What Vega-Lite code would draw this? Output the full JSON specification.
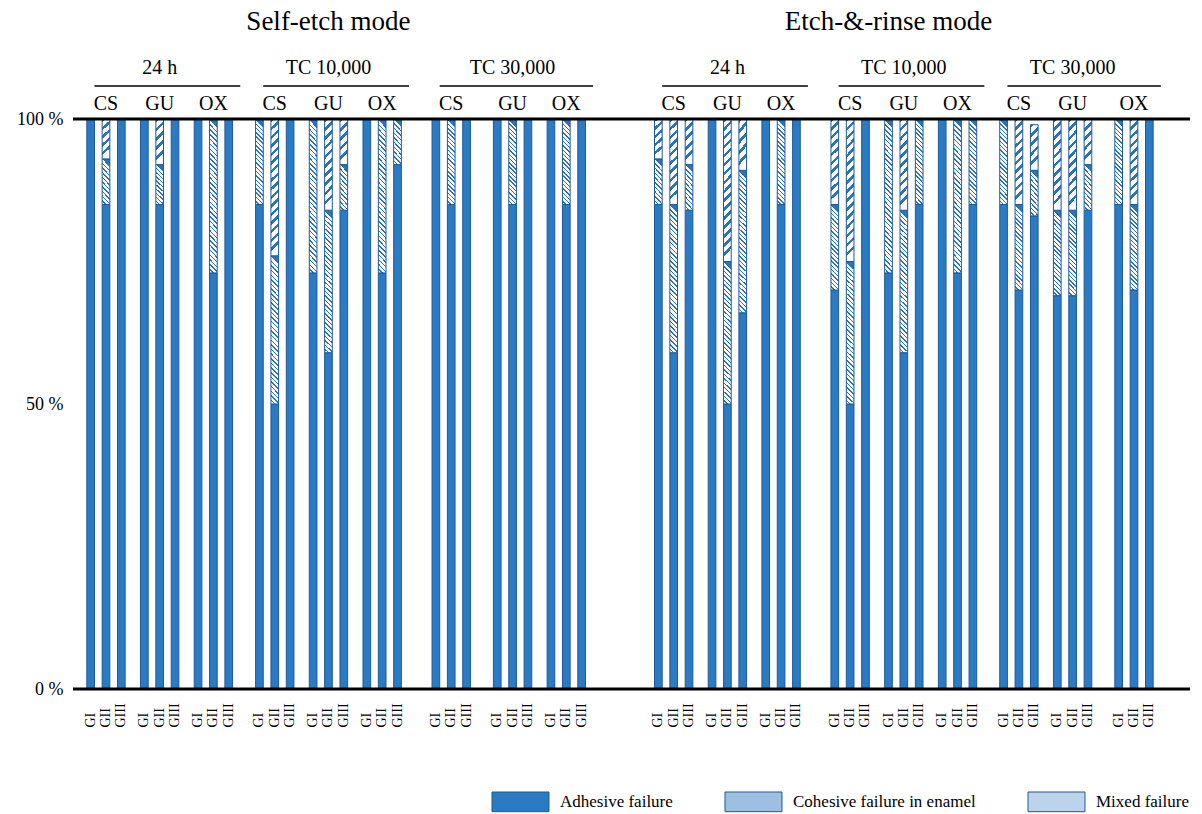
{
  "$schema": "https://vega.github.io/schema/vega-lite/v6.json",
  "width": 1117,
  "height": 684,
  "autosize": {"type": "none"},
  "padding": {"left": 73, "top": 5, "right": 12, "bottom": 125},
  "config": {"view": {"stroke": null}, "font": "Liberation Serif"},
  "data": {"values": [
    {"mode":"Self-etch mode","time":"24 h","material":"CS","group":"GI","adhesive":100,"mixed":0,"cohesive":0},
    {"mode":"Self-etch mode","time":"24 h","material":"CS","group":"GII","adhesive":85,"mixed":8,"cohesive":7},
    {"mode":"Self-etch mode","time":"24 h","material":"CS","group":"GIII","adhesive":100,"mixed":0,"cohesive":0},
    {"mode":"Self-etch mode","time":"24 h","material":"GU","group":"GI","adhesive":100,"mixed":0,"cohesive":0},
    {"mode":"Self-etch mode","time":"24 h","material":"GU","group":"GII","adhesive":85,"mixed":7,"cohesive":8},
    {"mode":"Self-etch mode","time":"24 h","material":"GU","group":"GIII","adhesive":100,"mixed":0,"cohesive":0},
    {"mode":"Self-etch mode","time":"24 h","material":"OX","group":"GI","adhesive":100,"mixed":0,"cohesive":0},
    {"mode":"Self-etch mode","time":"24 h","material":"OX","group":"GII","adhesive":73,"mixed":27,"cohesive":0},
    {"mode":"Self-etch mode","time":"24 h","material":"OX","group":"GIII","adhesive":100,"mixed":0,"cohesive":0},
    {"mode":"Self-etch mode","time":"TC 10,000","material":"CS","group":"GI","adhesive":85,"mixed":15,"cohesive":0},
    {"mode":"Self-etch mode","time":"TC 10,000","material":"CS","group":"GII","adhesive":50,"mixed":26,"cohesive":24},
    {"mode":"Self-etch mode","time":"TC 10,000","material":"CS","group":"GIII","adhesive":100,"mixed":0,"cohesive":0},
    {"mode":"Self-etch mode","time":"TC 10,000","material":"GU","group":"GI","adhesive":73,"mixed":27,"cohesive":0},
    {"mode":"Self-etch mode","time":"TC 10,000","material":"GU","group":"GII","adhesive":59,"mixed":25,"cohesive":16},
    {"mode":"Self-etch mode","time":"TC 10,000","material":"GU","group":"GIII","adhesive":84,"mixed":8,"cohesive":8},
    {"mode":"Self-etch mode","time":"TC 10,000","material":"OX","group":"GI","adhesive":100,"mixed":0,"cohesive":0},
    {"mode":"Self-etch mode","time":"TC 10,000","material":"OX","group":"GII","adhesive":73,"mixed":27,"cohesive":0},
    {"mode":"Self-etch mode","time":"TC 10,000","material":"OX","group":"GIII","adhesive":92,"mixed":8,"cohesive":0},
    {"mode":"Self-etch mode","time":"TC 30,000","material":"CS","group":"GI","adhesive":100,"mixed":0,"cohesive":0},
    {"mode":"Self-etch mode","time":"TC 30,000","material":"CS","group":"GII","adhesive":85,"mixed":15,"cohesive":0},
    {"mode":"Self-etch mode","time":"TC 30,000","material":"CS","group":"GIII","adhesive":100,"mixed":0,"cohesive":0},
    {"mode":"Self-etch mode","time":"TC 30,000","material":"GU","group":"GI","adhesive":100,"mixed":0,"cohesive":0},
    {"mode":"Self-etch mode","time":"TC 30,000","material":"GU","group":"GII","adhesive":85,"mixed":15,"cohesive":0},
    {"mode":"Self-etch mode","time":"TC 30,000","material":"GU","group":"GIII","adhesive":100,"mixed":0,"cohesive":0},
    {"mode":"Self-etch mode","time":"TC 30,000","material":"OX","group":"GI","adhesive":100,"mixed":0,"cohesive":0},
    {"mode":"Self-etch mode","time":"TC 30,000","material":"OX","group":"GII","adhesive":85,"mixed":15,"cohesive":0},
    {"mode":"Self-etch mode","time":"TC 30,000","material":"OX","group":"GIII","adhesive":100,"mixed":0,"cohesive":0},
    {"mode":"Etch-&-rinse mode","time":"24 h","material":"CS","group":"GI","adhesive":85,"mixed":8,"cohesive":7},
    {"mode":"Etch-&-rinse mode","time":"24 h","material":"CS","group":"GII","adhesive":59,"mixed":26,"cohesive":15},
    {"mode":"Etch-&-rinse mode","time":"24 h","material":"CS","group":"GIII","adhesive":84,"mixed":8,"cohesive":8},
    {"mode":"Etch-&-rinse mode","time":"24 h","material":"GU","group":"GI","adhesive":100,"mixed":0,"cohesive":0},
    {"mode":"Etch-&-rinse mode","time":"24 h","material":"GU","group":"GII","adhesive":50,"mixed":25,"cohesive":25},
    {"mode":"Etch-&-rinse mode","time":"24 h","material":"GU","group":"GIII","adhesive":66,"mixed":25,"cohesive":9},
    {"mode":"Etch-&-rinse mode","time":"24 h","material":"OX","group":"GI","adhesive":100,"mixed":0,"cohesive":0},
    {"mode":"Etch-&-rinse mode","time":"24 h","material":"OX","group":"GII","adhesive":85,"mixed":15,"cohesive":0},
    {"mode":"Etch-&-rinse mode","time":"24 h","material":"OX","group":"GIII","adhesive":100,"mixed":0,"cohesive":0},
    {"mode":"Etch-&-rinse mode","time":"TC 10,000","material":"CS","group":"GI","adhesive":70,"mixed":15,"cohesive":15},
    {"mode":"Etch-&-rinse mode","time":"TC 10,000","material":"CS","group":"GII","adhesive":50,"mixed":25,"cohesive":25},
    {"mode":"Etch-&-rinse mode","time":"TC 10,000","material":"CS","group":"GIII","adhesive":100,"mixed":0,"cohesive":0},
    {"mode":"Etch-&-rinse mode","time":"TC 10,000","material":"GU","group":"GI","adhesive":73,"mixed":27,"cohesive":0},
    {"mode":"Etch-&-rinse mode","time":"TC 10,000","material":"GU","group":"GII","adhesive":59,"mixed":25,"cohesive":16},
    {"mode":"Etch-&-rinse mode","time":"TC 10,000","material":"GU","group":"GIII","adhesive":85,"mixed":15,"cohesive":0},
    {"mode":"Etch-&-rinse mode","time":"TC 10,000","material":"OX","group":"GI","adhesive":100,"mixed":0,"cohesive":0},
    {"mode":"Etch-&-rinse mode","time":"TC 10,000","material":"OX","group":"GII","adhesive":73,"mixed":27,"cohesive":0},
    {"mode":"Etch-&-rinse mode","time":"TC 10,000","material":"OX","group":"GIII","adhesive":85,"mixed":15,"cohesive":0},
    {"mode":"Etch-&-rinse mode","time":"TC 30,000","material":"CS","group":"GI","adhesive":85,"mixed":15,"cohesive":0},
    {"mode":"Etch-&-rinse mode","time":"TC 30,000","material":"CS","group":"GII","adhesive":70,"mixed":15,"cohesive":15},
    {"mode":"Etch-&-rinse mode","time":"TC 30,000","material":"CS","group":"GIII","adhesive":83,"mixed":8,"cohesive":8},
    {"mode":"Etch-&-rinse mode","time":"TC 30,000","material":"GU","group":"GI","adhesive":69,"mixed":15,"cohesive":16},
    {"mode":"Etch-&-rinse mode","time":"TC 30,000","material":"GU","group":"GII","adhesive":69,"mixed":15,"cohesive":16},
    {"mode":"Etch-&-rinse mode","time":"TC 30,000","material":"GU","group":"GIII","adhesive":84,"mixed":8,"cohesive":8},
    {"mode":"Etch-&-rinse mode","time":"TC 30,000","material":"OX","group":"GI","adhesive":85,"mixed":15,"cohesive":0},
    {"mode":"Etch-&-rinse mode","time":"TC 30,000","material":"OX","group":"GII","adhesive":70,"mixed":15,"cohesive":15},
    {"mode":"Etch-&-rinse mode","time":"TC 30,000","material":"OX","group":"GIII","adhesive":100,"mixed":0,"cohesive":0}
  ]},
  "transform": [
    {"calculate": "substring(datum.mode,0,1) + (indexof(['24 h','TC 10,000','TC 30,000'], datum.time) + 1) + '-' + datum.material + '-' + datum.group", "as": "key"}
  ],
  "layer": [
    {
      "transform": [
        {"fold": ["adhesive", "mixed", "cohesive"], "as": ["type", "pct"]},
        {"filter": "datum.pct > 0"},
        {"calculate": "datum.type == 'adhesive' ? 'Adhesive failure' : datum.type == 'mixed' ? 'Mixed failure' : 'Cohesive failure in enamel'", "as": "failure"},
        {"calculate": "datum.type == 'adhesive' ? 'A' : (datum.type == 'cohesive' ? 'C' : 'M') + (datum.pct < 12 ? '1' : datum.pct < 20 ? '2' : '3')", "as": "fk"},
        {"calculate": "datum.type == 'adhesive' ? 0 : datum.type == 'mixed' ? 1 : 2", "as": "ord"}
      ],
      "mark": {"type": "bar", "stroke": "#1E5A97", "strokeWidth": 1},
      "encoding": {
        "x": {
          "field": "key", "type": "nominal", "sort": null,
          "scale": {
            "paddingInner": 0, "paddingOuter": 0.8,
            "domain": ["_a",
              "S1-CS-GI","_b","S1-CS-GII","_1","S1-CS-GIII","_3","_5",
              "S1-GU-GI","_7","S1-GU-GII","_9","S1-GU-GIII","_11","_12",
              "S1-OX-GI","_14","S1-OX-GII","_16","S1-OX-GIII","_18","_19","_20",
              "S2-CS-GI","_22","S2-CS-GII","_24","S2-CS-GIII","_26","_27",
              "S2-GU-GI","_29","S2-GU-GII","_31","S2-GU-GIII","_33","_34",
              "S2-OX-GI","_36","S2-OX-GII","_38","S2-OX-GIII","_40","_41","_42","_43",
              "S3-CS-GI","_45","S3-CS-GII","_47","S3-CS-GIII","_49","_50","_51",
              "S3-GU-GI","_53","S3-GU-GII","_55","S3-GU-GIII","_57","_58",
              "S3-OX-GI","_60","S3-OX-GII","_62","S3-OX-GIII",
              "_64","_65","_66","_67","_68","_69","_70","_71","_72",
              "E1-CS-GI","_74","E1-CS-GII","_76","E1-CS-GIII","_78","_79",
              "E1-GU-GI","_81","E1-GU-GII","_83","E1-GU-GIII","_85","_86",
              "E1-OX-GI","_88","E1-OX-GII","_90","E1-OX-GIII","_92","_93","_94","_95",
              "E2-CS-GI","_97","E2-CS-GII","_99","E2-CS-GIII","_101","_102",
              "E2-GU-GI","_104","E2-GU-GII","_106","E2-GU-GIII","_108","_109",
              "E2-OX-GI","_111","E2-OX-GII","_113","E2-OX-GIII","_115","_116","_117",
              "E3-CS-GI","_119","E3-CS-GII","_121","E3-CS-GIII","_123","_124",
              "E3-GU-GI","_126","E3-GU-GII","_128","E3-GU-GIII","_130","_131","_132",
              "E3-OX-GI","_135","E3-OX-GII","_137","E3-OX-GIII",
              "_t0","_t1","_t2","_t3"]
          },
          "axis": {
            "orient": "bottom", "title": null, "domain": false, "ticks": false,
            "labelAngle": -90, "labelAlign": "left", "labelBaseline": "middle",
            "labelPadding": 38, "labelFontSize": 14, "labelFont": "Liberation Serif",
            "labelColor": "black", "labelOverlap": false, "labelBound": false,
            "labelExpr": "indexof(datum.value, '-') > 0 ? split(datum.value, '-')[2] : ''"
          }
        },
        "y": {
          "field": "pct", "type": "quantitative", "stack": "zero",
          "scale": {"domain": [0, 120], "nice": false},
          "axis": {
            "values": [0, 50, 100], "labelExpr": "datum.value + ' %'", "title": null,
            "domain": false, "ticks": false, "grid": false,
            "labelFontSize": 18, "labelFont": "Liberation Serif", "labelColor": "black", "labelPadding": 10
          }
        },
        "color": {
          "field": "failure", "type": "nominal",
          "scale": {
            "domain": ["Adhesive failure", "Cohesive failure in enamel", "Mixed failure"],
            "range": ["#2A7BC3", "#9DBFE2", "#BCD3EC"]
          },
          "condition": [
            {"test": "datum.fk == 'C1'", "value": {"gradient": "linear", "x1": 0, "y1": 0, "x2": 0.17, "y2": 1, "stops": [
                {"offset":0,"color":"#2B73BB"},{"offset":0.08,"color":"#2B73BB"},{"offset":0.08,"color":"#ffffff"},{"offset":0.2,"color":"#ffffff"},
                {"offset":0.2,"color":"#2B73BB"},{"offset":0.28,"color":"#2B73BB"},{"offset":0.28,"color":"#ffffff"},{"offset":0.4,"color":"#ffffff"},
                {"offset":0.4,"color":"#2B73BB"},{"offset":0.48,"color":"#2B73BB"},{"offset":0.48,"color":"#ffffff"},{"offset":0.6,"color":"#ffffff"},
                {"offset":0.6,"color":"#2B73BB"},{"offset":0.68,"color":"#2B73BB"},{"offset":0.68,"color":"#ffffff"},{"offset":0.8,"color":"#ffffff"},
                {"offset":0.8,"color":"#2B73BB"},{"offset":0.88,"color":"#2B73BB"},{"offset":0.88,"color":"#ffffff"},{"offset":1,"color":"#ffffff"}
            ]}},
            {"test": "datum.fk == 'C2'", "value": {"gradient": "linear", "x1": 0, "y1": 0, "x2": 0.087, "y2": 1, "stops": [
                {"offset":0,"color":"#2B73BB"},{"offset":0.04,"color":"#2B73BB"},{"offset":0.04,"color":"#ffffff"},{"offset":0.1,"color":"#ffffff"},
                {"offset":0.1,"color":"#2B73BB"},{"offset":0.14,"color":"#2B73BB"},{"offset":0.14,"color":"#ffffff"},{"offset":0.2,"color":"#ffffff"},
                {"offset":0.2,"color":"#2B73BB"},{"offset":0.24,"color":"#2B73BB"},{"offset":0.24,"color":"#ffffff"},{"offset":0.3,"color":"#ffffff"},
                {"offset":0.3,"color":"#2B73BB"},{"offset":0.34,"color":"#2B73BB"},{"offset":0.34,"color":"#ffffff"},{"offset":0.4,"color":"#ffffff"},
                {"offset":0.4,"color":"#2B73BB"},{"offset":0.44,"color":"#2B73BB"},{"offset":0.44,"color":"#ffffff"},{"offset":0.5,"color":"#ffffff"},
                {"offset":0.5,"color":"#2B73BB"},{"offset":0.54,"color":"#2B73BB"},{"offset":0.54,"color":"#ffffff"},{"offset":0.6,"color":"#ffffff"},
                {"offset":0.6,"color":"#2B73BB"},{"offset":0.64,"color":"#2B73BB"},{"offset":0.64,"color":"#ffffff"},{"offset":0.7,"color":"#ffffff"},
                {"offset":0.7,"color":"#2B73BB"},{"offset":0.74,"color":"#2B73BB"},{"offset":0.74,"color":"#ffffff"},{"offset":0.8,"color":"#ffffff"},
                {"offset":0.8,"color":"#2B73BB"},{"offset":0.84,"color":"#2B73BB"},{"offset":0.84,"color":"#ffffff"},{"offset":0.9,"color":"#ffffff"},
                {"offset":0.9,"color":"#2B73BB"},{"offset":0.94,"color":"#2B73BB"},{"offset":0.94,"color":"#ffffff"},{"offset":1,"color":"#ffffff"}
            ]}},
            {"test": "datum.fk == 'C3'", "value": {"gradient": "linear", "x1": 0, "y1": 0, "x2": 0.055, "y2": 1, "stops": [
                {"offset":0,"color":"#2B73BB"},{"offset":0.025,"color":"#2B73BB"},{"offset":0.025,"color":"#ffffff"},{"offset":0.0625,"color":"#ffffff"},
                {"offset":0.0625,"color":"#2B73BB"},{"offset":0.0875,"color":"#2B73BB"},{"offset":0.0875,"color":"#ffffff"},{"offset":0.125,"color":"#ffffff"},
                {"offset":0.125,"color":"#2B73BB"},{"offset":0.15,"color":"#2B73BB"},{"offset":0.15,"color":"#ffffff"},{"offset":0.1875,"color":"#ffffff"},
                {"offset":0.1875,"color":"#2B73BB"},{"offset":0.2125,"color":"#2B73BB"},{"offset":0.2125,"color":"#ffffff"},{"offset":0.25,"color":"#ffffff"},
                {"offset":0.25,"color":"#2B73BB"},{"offset":0.275,"color":"#2B73BB"},{"offset":0.275,"color":"#ffffff"},{"offset":0.3125,"color":"#ffffff"},
                {"offset":0.3125,"color":"#2B73BB"},{"offset":0.3375,"color":"#2B73BB"},{"offset":0.3375,"color":"#ffffff"},{"offset":0.375,"color":"#ffffff"},
                {"offset":0.375,"color":"#2B73BB"},{"offset":0.4,"color":"#2B73BB"},{"offset":0.4,"color":"#ffffff"},{"offset":0.4375,"color":"#ffffff"},
                {"offset":0.4375,"color":"#2B73BB"},{"offset":0.4625,"color":"#2B73BB"},{"offset":0.4625,"color":"#ffffff"},{"offset":0.5,"color":"#ffffff"},
                {"offset":0.5,"color":"#2B73BB"},{"offset":0.525,"color":"#2B73BB"},{"offset":0.525,"color":"#ffffff"},{"offset":0.5625,"color":"#ffffff"},
                {"offset":0.5625,"color":"#2B73BB"},{"offset":0.5875,"color":"#2B73BB"},{"offset":0.5875,"color":"#ffffff"},{"offset":0.625,"color":"#ffffff"},
                {"offset":0.625,"color":"#2B73BB"},{"offset":0.65,"color":"#2B73BB"},{"offset":0.65,"color":"#ffffff"},{"offset":0.6875,"color":"#ffffff"},
                {"offset":0.6875,"color":"#2B73BB"},{"offset":0.7125,"color":"#2B73BB"},{"offset":0.7125,"color":"#ffffff"},{"offset":0.75,"color":"#ffffff"},
                {"offset":0.75,"color":"#2B73BB"},{"offset":0.775,"color":"#2B73BB"},{"offset":0.775,"color":"#ffffff"},{"offset":0.8125,"color":"#ffffff"},
                {"offset":0.8125,"color":"#2B73BB"},{"offset":0.8375,"color":"#2B73BB"},{"offset":0.8375,"color":"#ffffff"},{"offset":0.875,"color":"#ffffff"},
                {"offset":0.875,"color":"#2B73BB"},{"offset":0.9,"color":"#2B73BB"},{"offset":0.9,"color":"#ffffff"},{"offset":0.9375,"color":"#ffffff"},
                {"offset":0.9375,"color":"#2B73BB"},{"offset":0.9625,"color":"#2B73BB"},{"offset":0.9625,"color":"#ffffff"},{"offset":1,"color":"#ffffff"}
            ]}},
            {"test": "datum.fk == 'M1'", "value": {"gradient": "linear", "x1": 0.18, "y1": 0, "x2": 0, "y2": 1, "stops": [
                {"offset":0,"color":"#2B73BB"},{"offset":0.033,"color":"#2B73BB"},{"offset":0.033,"color":"#ffffff"},{"offset":0.1,"color":"#ffffff"},
                {"offset":0.1,"color":"#2B73BB"},{"offset":0.133,"color":"#2B73BB"},{"offset":0.133,"color":"#ffffff"},{"offset":0.2,"color":"#ffffff"},
                {"offset":0.2,"color":"#2B73BB"},{"offset":0.233,"color":"#2B73BB"},{"offset":0.233,"color":"#ffffff"},{"offset":0.3,"color":"#ffffff"},
                {"offset":0.3,"color":"#2B73BB"},{"offset":0.333,"color":"#2B73BB"},{"offset":0.333,"color":"#ffffff"},{"offset":0.4,"color":"#ffffff"},
                {"offset":0.4,"color":"#2B73BB"},{"offset":0.433,"color":"#2B73BB"},{"offset":0.433,"color":"#ffffff"},{"offset":0.5,"color":"#ffffff"},
                {"offset":0.5,"color":"#2B73BB"},{"offset":0.533,"color":"#2B73BB"},{"offset":0.533,"color":"#ffffff"},{"offset":0.6,"color":"#ffffff"},
                {"offset":0.6,"color":"#2B73BB"},{"offset":0.633,"color":"#2B73BB"},{"offset":0.633,"color":"#ffffff"},{"offset":0.7,"color":"#ffffff"},
                {"offset":0.7,"color":"#2B73BB"},{"offset":0.733,"color":"#2B73BB"},{"offset":0.733,"color":"#ffffff"},{"offset":0.8,"color":"#ffffff"},
                {"offset":0.8,"color":"#2B73BB"},{"offset":0.833,"color":"#2B73BB"},{"offset":0.833,"color":"#ffffff"},{"offset":0.9,"color":"#ffffff"},
                {"offset":0.9,"color":"#2B73BB"},{"offset":0.933,"color":"#2B73BB"},{"offset":0.933,"color":"#ffffff"},{"offset":1,"color":"#ffffff"}
            ]}},
            {"test": "datum.fk == 'M2'", "value": {"gradient": "linear", "x1": 0.09, "y1": 0, "x2": 0, "y2": 1, "stops": [
                {"offset":0,"color":"#2B73BB"},{"offset":0.017,"color":"#2B73BB"},{"offset":0.017,"color":"#ffffff"},{"offset":0.05,"color":"#ffffff"},
                {"offset":0.05,"color":"#2B73BB"},{"offset":0.067,"color":"#2B73BB"},{"offset":0.067,"color":"#ffffff"},{"offset":0.1,"color":"#ffffff"},
                {"offset":0.1,"color":"#2B73BB"},{"offset":0.117,"color":"#2B73BB"},{"offset":0.117,"color":"#ffffff"},{"offset":0.15,"color":"#ffffff"},
                {"offset":0.15,"color":"#2B73BB"},{"offset":0.167,"color":"#2B73BB"},{"offset":0.167,"color":"#ffffff"},{"offset":0.2,"color":"#ffffff"},
                {"offset":0.2,"color":"#2B73BB"},{"offset":0.217,"color":"#2B73BB"},{"offset":0.217,"color":"#ffffff"},{"offset":0.25,"color":"#ffffff"},
                {"offset":0.25,"color":"#2B73BB"},{"offset":0.267,"color":"#2B73BB"},{"offset":0.267,"color":"#ffffff"},{"offset":0.3,"color":"#ffffff"},
                {"offset":0.3,"color":"#2B73BB"},{"offset":0.317,"color":"#2B73BB"},{"offset":0.317,"color":"#ffffff"},{"offset":0.35,"color":"#ffffff"},
                {"offset":0.35,"color":"#2B73BB"},{"offset":0.367,"color":"#2B73BB"},{"offset":0.367,"color":"#ffffff"},{"offset":0.4,"color":"#ffffff"},
                {"offset":0.4,"color":"#2B73BB"},{"offset":0.417,"color":"#2B73BB"},{"offset":0.417,"color":"#ffffff"},{"offset":0.45,"color":"#ffffff"},
                {"offset":0.45,"color":"#2B73BB"},{"offset":0.467,"color":"#2B73BB"},{"offset":0.467,"color":"#ffffff"},{"offset":0.5,"color":"#ffffff"},
                {"offset":0.5,"color":"#2B73BB"},{"offset":0.517,"color":"#2B73BB"},{"offset":0.517,"color":"#ffffff"},{"offset":0.55,"color":"#ffffff"},
                {"offset":0.55,"color":"#2B73BB"},{"offset":0.567,"color":"#2B73BB"},{"offset":0.567,"color":"#ffffff"},{"offset":0.6,"color":"#ffffff"},
                {"offset":0.6,"color":"#2B73BB"},{"offset":0.617,"color":"#2B73BB"},{"offset":0.617,"color":"#ffffff"},{"offset":0.65,"color":"#ffffff"},
                {"offset":0.65,"color":"#2B73BB"},{"offset":0.667,"color":"#2B73BB"},{"offset":0.667,"color":"#ffffff"},{"offset":0.7,"color":"#ffffff"},
                {"offset":0.7,"color":"#2B73BB"},{"offset":0.717,"color":"#2B73BB"},{"offset":0.717,"color":"#ffffff"},{"offset":0.75,"color":"#ffffff"},
                {"offset":0.75,"color":"#2B73BB"},{"offset":0.767,"color":"#2B73BB"},{"offset":0.767,"color":"#ffffff"},{"offset":0.8,"color":"#ffffff"},
                {"offset":0.8,"color":"#2B73BB"},{"offset":0.817,"color":"#2B73BB"},{"offset":0.817,"color":"#ffffff"},{"offset":0.85,"color":"#ffffff"},
                {"offset":0.85,"color":"#2B73BB"},{"offset":0.867,"color":"#2B73BB"},{"offset":0.867,"color":"#ffffff"},{"offset":0.9,"color":"#ffffff"},
                {"offset":0.9,"color":"#2B73BB"},{"offset":0.917,"color":"#2B73BB"},{"offset":0.917,"color":"#ffffff"},{"offset":0.95,"color":"#ffffff"},
                {"offset":0.95,"color":"#2B73BB"},{"offset":0.967,"color":"#2B73BB"},{"offset":0.967,"color":"#ffffff"},{"offset":1,"color":"#ffffff"}
            ]}},
            {"test": "datum.fk == 'M3'", "value": {"gradient": "linear", "x1": 0.052, "y1": 0, "x2": 0, "y2": 1, "stops": [
                {"offset":0,"color":"#2B73BB"},{"offset":0.01,"color":"#2B73BB"},{"offset":0.01,"color":"#ffffff"},{"offset":0.03125,"color":"#ffffff"},
                {"offset":0.03125,"color":"#2B73BB"},{"offset":0.04125,"color":"#2B73BB"},{"offset":0.04125,"color":"#ffffff"},{"offset":0.0625,"color":"#ffffff"},
                {"offset":0.0625,"color":"#2B73BB"},{"offset":0.0725,"color":"#2B73BB"},{"offset":0.0725,"color":"#ffffff"},{"offset":0.09375,"color":"#ffffff"},
                {"offset":0.09375,"color":"#2B73BB"},{"offset":0.10375,"color":"#2B73BB"},{"offset":0.10375,"color":"#ffffff"},{"offset":0.125,"color":"#ffffff"},
                {"offset":0.125,"color":"#2B73BB"},{"offset":0.135,"color":"#2B73BB"},{"offset":0.135,"color":"#ffffff"},{"offset":0.15625,"color":"#ffffff"},
                {"offset":0.15625,"color":"#2B73BB"},{"offset":0.16625,"color":"#2B73BB"},{"offset":0.16625,"color":"#ffffff"},{"offset":0.1875,"color":"#ffffff"},
                {"offset":0.1875,"color":"#2B73BB"},{"offset":0.1975,"color":"#2B73BB"},{"offset":0.1975,"color":"#ffffff"},{"offset":0.21875,"color":"#ffffff"},
                {"offset":0.21875,"color":"#2B73BB"},{"offset":0.22875,"color":"#2B73BB"},{"offset":0.22875,"color":"#ffffff"},{"offset":0.25,"color":"#ffffff"},
                {"offset":0.25,"color":"#2B73BB"},{"offset":0.26,"color":"#2B73BB"},{"offset":0.26,"color":"#ffffff"},{"offset":0.28125,"color":"#ffffff"},
                {"offset":0.28125,"color":"#2B73BB"},{"offset":0.29125,"color":"#2B73BB"},{"offset":0.29125,"color":"#ffffff"},{"offset":0.3125,"color":"#ffffff"},
                {"offset":0.3125,"color":"#2B73BB"},{"offset":0.3225,"color":"#2B73BB"},{"offset":0.3225,"color":"#ffffff"},{"offset":0.34375,"color":"#ffffff"},
                {"offset":0.34375,"color":"#2B73BB"},{"offset":0.35375,"color":"#2B73BB"},{"offset":0.35375,"color":"#ffffff"},{"offset":0.375,"color":"#ffffff"},
                {"offset":0.375,"color":"#2B73BB"},{"offset":0.385,"color":"#2B73BB"},{"offset":0.385,"color":"#ffffff"},{"offset":0.40625,"color":"#ffffff"},
                {"offset":0.40625,"color":"#2B73BB"},{"offset":0.41625,"color":"#2B73BB"},{"offset":0.41625,"color":"#ffffff"},{"offset":0.4375,"color":"#ffffff"},
                {"offset":0.4375,"color":"#2B73BB"},{"offset":0.4475,"color":"#2B73BB"},{"offset":0.4475,"color":"#ffffff"},{"offset":0.46875,"color":"#ffffff"},
                {"offset":0.46875,"color":"#2B73BB"},{"offset":0.47875,"color":"#2B73BB"},{"offset":0.47875,"color":"#ffffff"},{"offset":0.5,"color":"#ffffff"},
                {"offset":0.5,"color":"#2B73BB"},{"offset":0.51,"color":"#2B73BB"},{"offset":0.51,"color":"#ffffff"},{"offset":0.53125,"color":"#ffffff"},
                {"offset":0.53125,"color":"#2B73BB"},{"offset":0.54125,"color":"#2B73BB"},{"offset":0.54125,"color":"#ffffff"},{"offset":0.5625,"color":"#ffffff"},
                {"offset":0.5625,"color":"#2B73BB"},{"offset":0.5725,"color":"#2B73BB"},{"offset":0.5725,"color":"#ffffff"},{"offset":0.59375,"color":"#ffffff"},
                {"offset":0.59375,"color":"#2B73BB"},{"offset":0.60375,"color":"#2B73BB"},{"offset":0.60375,"color":"#ffffff"},{"offset":0.625,"color":"#ffffff"},
                {"offset":0.625,"color":"#2B73BB"},{"offset":0.635,"color":"#2B73BB"},{"offset":0.635,"color":"#ffffff"},{"offset":0.65625,"color":"#ffffff"},
                {"offset":0.65625,"color":"#2B73BB"},{"offset":0.66625,"color":"#2B73BB"},{"offset":0.66625,"color":"#ffffff"},{"offset":0.6875,"color":"#ffffff"},
                {"offset":0.6875,"color":"#2B73BB"},{"offset":0.6975,"color":"#2B73BB"},{"offset":0.6975,"color":"#ffffff"},{"offset":0.71875,"color":"#ffffff"},
                {"offset":0.71875,"color":"#2B73BB"},{"offset":0.72875,"color":"#2B73BB"},{"offset":0.72875,"color":"#ffffff"},{"offset":0.75,"color":"#ffffff"},
                {"offset":0.75,"color":"#2B73BB"},{"offset":0.76,"color":"#2B73BB"},{"offset":0.76,"color":"#ffffff"},{"offset":0.78125,"color":"#ffffff"},
                {"offset":0.78125,"color":"#2B73BB"},{"offset":0.79125,"color":"#2B73BB"},{"offset":0.79125,"color":"#ffffff"},{"offset":0.8125,"color":"#ffffff"},
                {"offset":0.8125,"color":"#2B73BB"},{"offset":0.8225,"color":"#2B73BB"},{"offset":0.8225,"color":"#ffffff"},{"offset":0.84375,"color":"#ffffff"},
                {"offset":0.84375,"color":"#2B73BB"},{"offset":0.85375,"color":"#2B73BB"},{"offset":0.85375,"color":"#ffffff"},{"offset":0.875,"color":"#ffffff"},
                {"offset":0.875,"color":"#2B73BB"},{"offset":0.885,"color":"#2B73BB"},{"offset":0.885,"color":"#ffffff"},{"offset":0.90625,"color":"#ffffff"},
                {"offset":0.90625,"color":"#2B73BB"},{"offset":0.91625,"color":"#2B73BB"},{"offset":0.91625,"color":"#ffffff"},{"offset":0.9375,"color":"#ffffff"},
                {"offset":0.9375,"color":"#2B73BB"},{"offset":0.9475,"color":"#2B73BB"},{"offset":0.9475,"color":"#ffffff"},{"offset":0.96875,"color":"#ffffff"},
                {"offset":0.96875,"color":"#2B73BB"},{"offset":0.97875,"color":"#2B73BB"},{"offset":0.97875,"color":"#ffffff"},{"offset":1,"color":"#ffffff"}
            ]}}
          ],
          "legend": {
            "title": null, "orient": "none", "legendX": 427, "legendY": 776,
            "direction": "horizontal", "padding": 0,
            "symbolType": "M-1.45,-0.5H1.45V0.5H-1.45Z", "symbolSize": 1545,
            "symbolStrokeColor": "#1E5A97", "symbolStrokeWidth": 1, "symbolOpacity": 1,
            "labelFontSize": 17, "labelFont": "Liberation Serif", "labelColor": "black", "labelLimit": 0,
            "labelOffset": 19, "columnPadding": 50
          }
        },
        "order": {"field": "ord", "type": "quantitative"}
      }
    },
    {
      "data": {"values": [{"v": 0}, {"v": 100}]},
      "mark": {"type": "rule", "strokeWidth": 3, "color": "black"},
      "encoding": {"y": {"field": "v", "type": "quantitative"}}
    },
    {
      "transform": [{"filter": "datum.group == 'GII'"}],
      "mark": {"type": "text", "fontSize": 20, "font": "Liberation Serif", "baseline": "middle", "color": "black"},
      "encoding": {
        "x": {"field": "key", "type": "nominal"},
        "y": {"datum": 102.6},
        "text": {"field": "material"}
      }
    },
    {
      "transform": [{"filter": "datum.material == 'GU' && datum.group == 'GII'"}],
      "mark": {"type": "text", "fontSize": 20, "font": "Liberation Serif", "baseline": "middle", "color": "black"},
      "encoding": {
        "x": {"field": "key", "type": "nominal"},
        "y": {"datum": 108.9},
        "text": {"field": "time"}
      }
    },
    {
      "transform": [
        {"filter": "datum.material == 'CS' && datum.group == 'GI'"},
        {"calculate": "replace(datum.key, 'CS-GI', 'OX-GIII')", "as": "key2"}
      ],
      "mark": {"type": "rule", "strokeWidth": 1.5, "color": "black"},
      "encoding": {
        "x": {"field": "key", "type": "nominal", "bandPosition": 1},
        "x2": {"field": "key2", "bandPosition": 2},
        "y": {"datum": 105.8}
      }
    },
    {
      "transform": [{"filter": "datum.time == 'TC 10,000' && datum.material == 'GU' && ((datum.mode == 'Self-etch mode' && datum.group == 'GII') || (datum.mode == 'Etch-&-rinse mode' && datum.group == 'GI'))"}],
      "mark": {"type": "text", "fontSize": 27, "font": "Liberation Serif", "baseline": "middle", "color": "black"},
      "encoding": {
        "x": {"field": "key", "type": "nominal"},
        "y": {"datum": 117},
        "text": {"field": "mode"}
      }
    }
  ]
}
